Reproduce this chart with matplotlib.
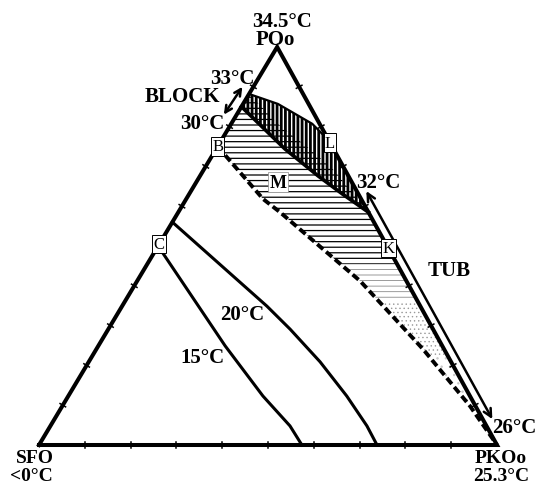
import numpy as np
import matplotlib
matplotlib.use("Agg")
import matplotlib.pyplot as plt
from matplotlib.patches import Polygon, Rectangle, FancyArrowPatch

# Compositions are (PO, PKO) fractions; SFO = 1 - PO - PKO
iso15_po = [0.50, 0.249, 0.123, 0.048, 0.0]
iso15_pko = [0.00, 0.277, 0.425, 0.523, 0.574]

iso20_po = [0.560, 0.349, 0.291, 0.209, 0.123, 0.048, 0.0]
iso20_pko = [0.000, 0.316, 0.397, 0.505, 0.608, 0.691, 0.738]

# phase boundary B -> PKOo (dashed)
bound_po = [0.75, 0.618, 0.585, 0.412, 0.359, 0.241, 0.098, 0.0]
bound_pko = [0.00, 0.168, 0.222, 0.487, 0.557, 0.713, 0.890, 1.0]

# 33 °C upper limit of the dark region (ends at L)
top_po = [0.882, 0.857, 0.807, 0.765]
top_pko = [0.000, 0.076, 0.177, 0.235]

# 32 °C line
iso32_po = [0.85, 0.744, 0.676, 0.631, 0.585]
iso32_pko = [0.00, 0.150, 0.258, 0.334, 0.415]

# lower limit of the pure vertical band
mid_po = [0.882, 0.807, 0.739, 0.688, 0.585]
mid_pko = [0.000, 0.102, 0.212, 0.288, 0.415]

# boxed points
pt_names = ["B", "C", "L", "K"]
pt_po = [0.75, 0.505, 0.76, 0.495]
pt_pko = [0.00, 0.00, 0.24, 0.505]

# double arrows (ends given as PO, PKO)
block_po = [0.90, 0.83]
block_pko = [-0.024, -0.028]
tub_po = [0.638, 0.065]
tub_sfo = -0.021

tick_fracs = [0.1, 0.2, 0.3, 0.4, 0.5, 0.6, 0.7, 0.8, 0.9]

APEX_X, APEX_Y = 0.52, 0.869


def tern(po, pko):
    po = np.asarray(po, float)
    pko = np.asarray(pko, float)
    return pko + APEX_X * po, APEX_Y * po


plt.rcParams["font.family"] = ["Liberation Serif", "DejaVu Serif"]
fig = plt.figure(figsize=(5.39, 4.85), dpi=100)
ax = fig.add_axes([0, 0, 1, 1])
ax.set_xlim(-39 / 458, 500 / 458)
ax.set_ylim(-39 / 458, 446 / 458)
ax.axis("off")


def hatch_patch(xy, hatch, color, hlw, clip=None, z=1):
    plt.rcParams["hatch.linewidth"] = hlw
    p = Polygon(xy, closed=True, fill=False, edgecolor=color, linewidth=0,
                hatch=hatch, zorder=z)
    if hasattr(p, "set_hatch_linewidth"):
        p.set_hatch_linewidth(hlw)
    ax.add_patch(p)
    if clip is not None:
        lo, hi = clip
        r = Rectangle((-1, APEX_Y * lo), 3, APEX_Y * (hi - lo),
                      transform=ax.transData)
        p.set_clip_path(r)
    return p


# horizontally hatched region M: left edge, dashed boundary, right edge, mid curve
hx_po = [0.882, 0.75] + bound_po[1:] + [0.585] + mid_po[::-1][1:-1]
hx_pko = [0.0, 0.0] + bound_pko[1:] + [0.415] + mid_pko[::-1][1:-1]
hx, hy = tern(hx_po, hx_pko)
hxy = np.column_stack([hx, hy])
hatch_patch(hxy, "---", "black", 0.9, clip=(0.455, 1.0))
hatch_patch(hxy, "---", "#8a8a8a", 0.6, clip=(0.36, 0.455))
hatch_patch(hxy, "....", "#9a9a9a", 0.5, clip=(0.22, 0.36))
hatch_patch(hxy, "..", "#c8c8c8", 0.5, clip=(0.10, 0.22))

# dark vertically hatched region between the 33 °C curve and the 32 °C line
vx_po = top_po + [0.585] + iso32_po[::-1][1:]
vx_pko = top_pko + [0.415] + iso32_pko[::-1][1:]
vx, vy = tern(vx_po, vx_pko)
hatch_patch(np.column_stack([vx, vy]), "||||", "black", 2.0, z=2)

# triangle outline
tx, ty = tern([0, 0, 1, 0], [0, 1, 0, 0])
ax.plot(tx, ty, color="black", lw=2.9, solid_joinstyle="miter", zorder=5)

# small ticks every 10 % along each edge
tl = 0.007
for f in tick_fracs:
    for (p0, k0), (p1, k1) in [((0, 0), (0, 1)), ((0, 1), (1, 0)), ((1, 0), (0, 0))]:
        x, y = tern(p0 + (p1 - p0) * f, k0 + (k1 - k0) * f)
        ex, ey = tern(p1, k1)
        sx, sy = tern(p0, k0)
        dx, dy = ex - sx, ey - sy
        n = np.hypot(dx, dy)
        nx, ny = -dy / n, dx / n
        ax.plot([x - nx * tl, x + nx * tl], [y - ny * tl, y + ny * tl],
                color="black", lw=1.1, zorder=5)

# isotherms and boundaries
x, y = tern(iso15_po, iso15_pko)
ax.plot(x, y, color="black", lw=2.2, zorder=4)
x, y = tern(iso20_po, iso20_pko)
ax.plot(x, y, color="black", lw=2.2, zorder=4)
x, y = tern(bound_po, bound_pko)
ax.plot(x, y, color="black", lw=2.8, linestyle=(0, (2, 1)), zorder=4)
x, y = tern(iso32_po, iso32_pko)
ax.plot(x, y, color="black", lw=2.6, zorder=4)
x, y = tern(top_po, top_pko)
ax.plot(x, y, color="black", lw=1.6, zorder=4)

# double arrows
bx, by = tern(block_po, block_pko)
ax.add_patch(FancyArrowPatch((bx[0], by[0]), (bx[1], by[1]), arrowstyle="<->",
                             mutation_scale=12, lw=1.8, color="black",
                             shrinkA=0, shrinkB=0, zorder=6))
tub_pko = [1 - p - tub_sfo for p in tub_po]
ux, uy = tern(tub_po, tub_pko)
ax.add_patch(FancyArrowPatch((ux[0], uy[0]), (ux[1], uy[1]), arrowstyle="<->",
                             mutation_scale=14, lw=1.8, color="black",
                             shrinkA=0, shrinkB=0, zorder=6))

# boxed composition points
for name, po, pko in zip(pt_names, pt_po, pt_pko):
    x, y = tern(po, pko)
    ax.text(x, y, name, fontsize=12, ha="center", va="center", zorder=8,
            bbox=dict(boxstyle="square,pad=0.08", fc="white", ec="black", lw=0.7))

ax.text(0.522, 0.574, "M", fontsize=13, fontweight="bold", ha="center",
        va="center", zorder=8,
        bbox=dict(boxstyle="square,pad=0.1", fc="white", ec="#888888", lw=0.5))

bold = dict(fontsize=15, fontweight="bold", ha="center", va="center", zorder=9)
ax.text(0.531, 0.926, "34.5°C", **bold)
ax.text(0.517, 0.886, "POo", **bold)
ax.text(0.421, 0.801, "33°C", **bold)
ax.text(0.314, 0.762, "BLOCK", **bold)
ax.text(0.356, 0.703, "30°C", **bold)
ax.text(0.740, 0.574, "32°C", **bold)
ax.text(0.895, 0.382, "TUB", **bold)
ax.text(1.037, 0.039, "26°C", **bold)
ax.text(0.443, 0.286, "20°C", **bold)
ax.text(0.356, 0.192, "15°C", **bold)

corner = dict(fontsize=14, fontweight="bold", ha="center", zorder=9)
ax.text(-0.009, -0.009, "SFO", va="top", **corner)
ax.text(-0.017, -0.047, "<0°C", va="top", **corner)
ax.text(1.007, -0.009, "PKOo", va="top", **corner)
ax.text(1.009, -0.047, "25.3°C", va="top", **corner)

fig.savefig("out.png", dpi=100)
